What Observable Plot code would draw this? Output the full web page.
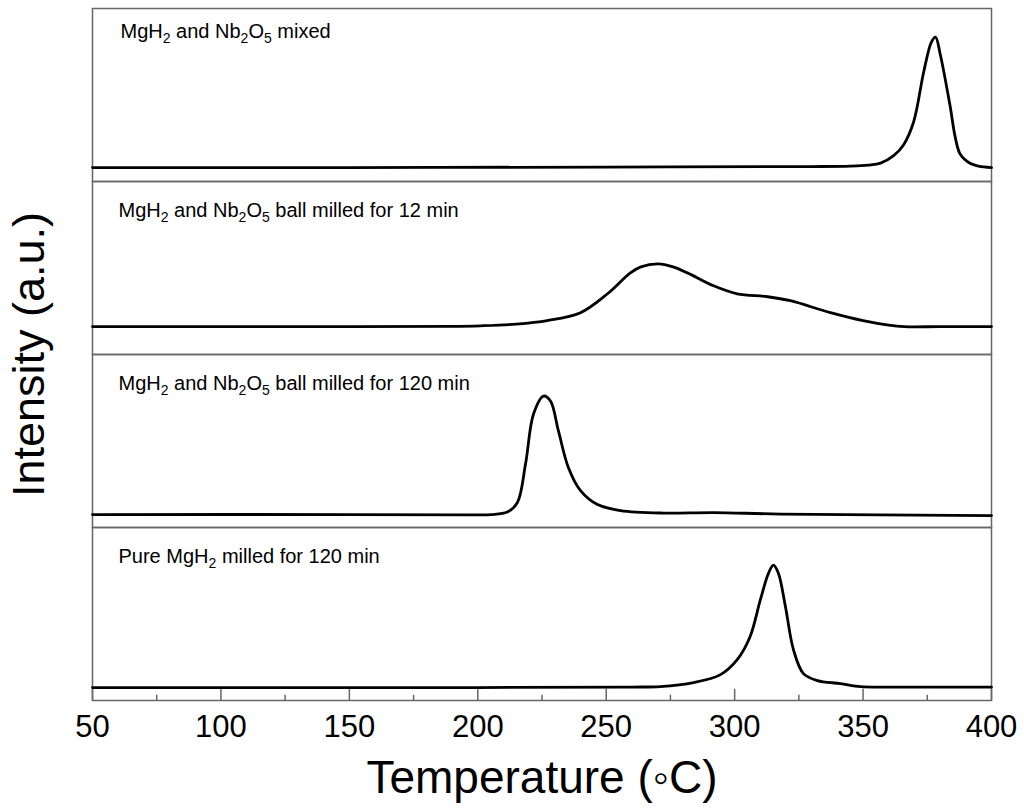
<!DOCTYPE html>
<html><head><meta charset="utf-8">
<script src="https://cdn.jsdelivr.net/npm/d3@7"></script>
<script src="https://cdn.jsdelivr.net/npm/@observablehq/plot@0.6"></script>
<style>
body{margin:0;background:#fff}
svg{font-family:"Liberation Sans",Arial,sans-serif}
g[aria-label="x-axis label"]{font-size:46px}
g[aria-label="fy-axis label"]{font-size:45px}
g[aria-label="x-axis tick label"]{font-size:31px}
</style></head><body><div id="chart"></div>
<script>
// Panels, top to bottom
const panels = ["mixed", "bm12", "bm120", "pure"];
const panelLabels = [
  "MgH_2 and Nb_2O_5 mixed",
  "MgH_2 and Nb_2O_5 ball milled for 12 min",
  "MgH_2 and Nb_2O_5 ball milled for 120 min",
  "Pure MgH_2 milled for 120 min"
];

// Temperatures (°C) and intensities (a.u.)
const tMixed = [50, 150, 250, 330, 345, 352, 356.8, 361.9, 365.8, 369.7, 373.6, 376.6, 378.2, 380.1, 383.8, 386, 387.9, 391.8, 395, 400];
const iMixed = [14, 14, 14.5, 15, 15.5, 16.5, 18.5, 26, 37, 60, 110, 140, 145, 127, 77, 43, 27, 18, 15.5, 14];

const tBm12 = [50, 150, 190, 201, 215, 227, 240, 250.5, 259.4, 263.5, 270.3, 276, 281.6, 291.8, 301, 312.8, 321.7, 337.3, 350, 360, 366, 380, 400];
const iBm12 = [28, 28, 28.2, 28.8, 30.5, 34, 42, 61, 82, 88, 91, 88, 82, 69, 61, 58, 54, 42, 34, 29.5, 28, 28, 28];

const tBm120 = [50, 150, 195, 205, 211.5, 215.4, 218.6, 221.7, 225.6, 228.3, 231.4, 235.3, 240, 246.6, 255.6, 272.3, 291.8, 317.8, 400];
const iBm120 = [13, 13, 12.7, 13, 15.5, 25, 64, 114, 132, 127, 97, 60, 37, 23, 17, 14.5, 15, 13.5, 12];

const tPure = [50, 200, 260, 271, 284, 294.5, 301, 306, 310, 313.2, 315.1, 317, 319.8, 322.9, 326.8, 332.2, 341.2, 349, 360, 400];
const iPure = [13, 13, 13.5, 14, 18, 26, 41, 64, 101, 128, 136, 128, 94, 51, 27, 20, 17, 14, 13.5, 13.5];

const majorTicks = [50, 100, 150, 200, 250, 300, 350, 400];
const minorTicks = [75, 125, 175, 225, 275, 325, 375];

const series = [[tMixed, iMixed], [tBm12, iBm12], [tBm120, iBm120], [tPure, iPure]];
const rows = [];
series.forEach(([ts, is], k) => ts.forEach((t, j) => rows.push({panel: panels[k], t, i: is[j]})));
const labelRows = panels.map((p, k) => ({panel: p, label: panelLabels[k]}));
const lastPanel = panels[panels.length - 1];
const majorRows = majorTicks.map(t => ({panel: lastPanel, t}));
const minorRows = minorTicks.map(t => ({panel: lastPanel, t}));

const W = 1024, H = 811, mT = 6, mB = 110, mL = 92, mR = 33;
const panelH = (H - mT - mB) / panels.length;
const gray = "#666666";

const chart = Plot.plot({
  width: W, height: H,
  marginTop: mT, marginBottom: mB, marginLeft: mL, marginRight: mR,
  style: {fontFamily: '"Liberation Sans", Arial, sans-serif', background: "white", color: "black"},
  x: {domain: [50, 400]},
  y: {domain: [0, panelH], axis: null},
  fy: {domain: panels, padding: 0},
  marks: [
    Plot.frame({stroke: gray, strokeWidth: 1.5}),
    Plot.tickX(majorRows, {x: "t", fy: "panel", insetTop: panelH - 12, stroke: gray, strokeWidth: 1.5}),
    Plot.tickX(minorRows, {x: "t", fy: "panel", insetTop: panelH - 6, stroke: gray, strokeWidth: 1.5}),
    Plot.line(rows, {x: "t", y: "i", fy: "panel", stroke: "black", strokeWidth: 2.8, curve: "catmull-rom"}),
    Plot.text(labelRows.slice(0, 1), {fy: "panel", text: "label", frameAnchor: "top-left", textAnchor: "start", lineAnchor: "top", dx: 28, dy: 15, fontSize: 20, fill: "black"}),
    Plot.text(labelRows.slice(1), {fy: "panel", text: "label", frameAnchor: "top-left", textAnchor: "start", lineAnchor: "top", dx: 26, dy: 21, fontSize: 20, fill: "black"}),
    Plot.axisX({ticks: majorTicks, tickSize: 0, tickPadding: 14, fontSize: 31, label: "Temperature (\u25E6C)", labelAnchor: "center", labelArrow: "none", labelOffset: 92}),
    Plot.axisFy({anchor: "left", tickSize: 0, tickFormat: () => "", label: "Intensity (a.u.)", labelAnchor: "center", labelOffset: 80, fontSize: 45})
  ]
});

// Render subscripts (e.g. MgH_2 -> MgH with subscript 2)
const svgns = "http://www.w3.org/2000/svg";
chart.querySelectorAll('g[aria-label="text"] text').forEach(el => {
  const s = el.textContent;
  if (!s.includes("_")) return;
  el.textContent = "";
  const parts = s.split(/_(\d)/);
  let shifted = false;
  parts.forEach((p, idx) => {
    if (!p) return;
    const ts = document.createElementNS(svgns, "tspan");
    ts.textContent = p;
    if (idx % 2 === 1) {
      ts.setAttribute("font-size", "14");
      if (!shifted) { ts.setAttribute("dy", "5"); shifted = true; }
    } else if (shifted) {
      ts.setAttribute("dy", "-5"); shifted = false;
    }
    el.appendChild(ts);
  });
});

document.getElementById("chart").appendChild(chart);
</script>
</body></html>
